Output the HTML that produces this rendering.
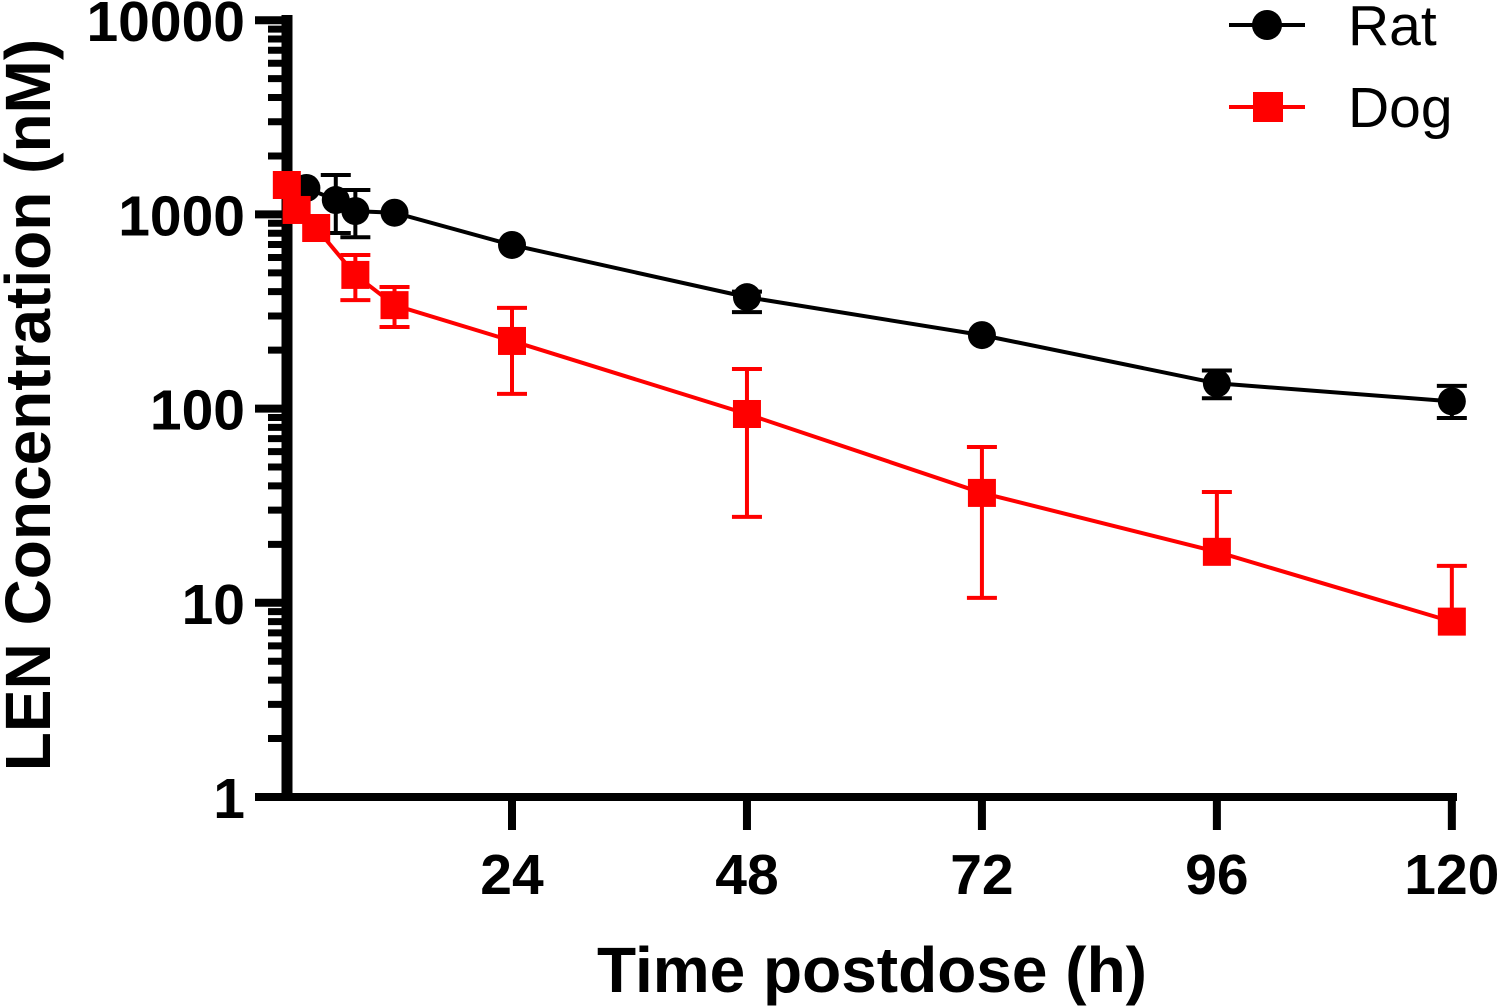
<!DOCTYPE html>
<html><head><meta charset="utf-8"><style>
html,body{margin:0;padding:0;background:#fff;}
svg{display:block;font-family:"Liberation Sans",Arial,sans-serif;}
</style></head><body>
<svg id="chart" width="1500" height="1006" viewBox="0 0 1500 1006">
<g id="axes"></g>
<g id="series"></g>
<g>
  <g>
    <line x1="1229" y1="25" x2="1305" y2="25" stroke="#000" stroke-width="4"/>
    <circle cx="1267" cy="25" r="15" fill="#000"/>
    <text x="1348" y="45" font-size="57" fill="#000">Rat</text>
  </g>
  <g>
    <line x1="1229" y1="107" x2="1305" y2="107" stroke="#f00" stroke-width="4"/>
    <rect x="1253" y="92" width="30" height="30" fill="#f00"/>
    <text x="1348" y="127" font-size="57" fill="#000">Dog</text>
  </g>
</g>
<text x="872" y="992" font-size="64" font-weight="bold" text-anchor="middle">Time postdose (h)</text>
<text transform="translate(50,405) rotate(-90)" font-size="64" font-weight="bold" text-anchor="middle">LEN Concentration (nM)</text>
</svg>
<script>
const ratTimes=[3,6,8,12,24,48,72,96,120];
const ratValues=[1368,1186,1040,1020,696,375,239,135,109];
const ratUpper=[null,1596,1336,null,null,400,null,157,131];
const ratLower=[null,802,763,null,null,314,null,113,89.5];
const dogTimes=[1,2,4,8,12,24,48,72,96,120];
const dogValues=[1417,1054,851,488,341,223,93.8,36.8,18.3,8.0];
const dogUpper=[null,null,null,618,423,330,160,63.4,37.2,15.5];
const dogLower=[null,null,null,362,263,119,27.7,10.6,null,null];
const xTicks=[24,48,72,96,120];
const yTicks=[1,10,100,1000,10000];

const NS="http://www.w3.org/2000/svg";
function X(t){return 512+(t-24)*9.79;}
function Y(v){return 797-194.2*Math.log10(v);}
function mk(tag,attrs,parent){const e=document.createElementNS(NS,tag);for(const k in attrs)e.setAttribute(k,attrs[k]);parent.appendChild(e);return e;}
const axes=document.getElementById('axes'), series=document.getElementById('series');

let yl=mk('line',{x1:287,y1:15,x2:287,y2:801,stroke:'#000','stroke-width':11},axes);


let xl=mk('line',{x1:255,y1:797,x2:1457,y2:797,stroke:'#000','stroke-width':8},axes);



yTicks.forEach(v=>{
  const y=Y(v);
  if(v!==1){const t=mk('line',{x1:255,y1:y,x2:287,y2:y,stroke:'#000','stroke-width':8},axes);
  
  }
  const l=mk('text',{x:245,y:y+21,'font-size':57,'font-weight':'bold','text-anchor':'end'},axes);
  l.textContent=String(v);
  
  
  if(v<10000){for(let m=2;m<=9;m++){const ym=Y(v*m);
    const mt=mk('line',{x1:268,y1:ym,x2:287,y2:ym,stroke:'#000','stroke-width':7},axes);
    
    }}
});
xTicks.forEach(t=>{
  const x=X(t);
  const tk=mk('line',{x1:x,y1:797,x2:x,y2:830,stroke:'#000','stroke-width':8},axes);
  
  
  const l=mk('text',{x:x,y:894,'font-size':57,'font-weight':'bold','text-anchor':'middle'},axes);
  l.textContent=String(t);
  
  
});

function drawSeries(name,times,vals,up,lo,color,shape){
  const g=mk('g',{},series);
  
  
  const pts=times.map((t,i)=>X(t)+','+Y(vals[i])).join(' ');
  const pl=mk('polyline',{points:pts,fill:'none',stroke:color,'stroke-width':4},g);
  
  
  times.forEach((t,i)=>{
    const x=X(t),y=Y(vals[i]);
    const parts=[];
    if(up[i]!=null)parts.push([Y(up[i]),y,'up']);
    if(lo[i]!=null)parts.push([y,Y(lo[i]),'lo']);
    parts.forEach(([a,b,kind])=>{
      const e=mk('line',{x1:x,y1:a,x2:x,y2:b,stroke:color,'stroke-width':4},g);
      
      
      const capY=kind==='up'?a:b;
      const c=mk('line',{x1:x-15,y1:capY,x2:x+15,y2:capY,stroke:color,'stroke-width':4},g);
      
      
    });
  });
  times.forEach((t,i)=>{
    const x=X(t),y=Y(vals[i]);
    let m;
    if(shape==='circle')m=mk('circle',{cx:x,cy:y,r:14,fill:color},g);
    else m=mk('rect',{x:x-14,y:y-14,width:28,height:28,fill:color},g);
    
    
  });
}
drawSeries('rat',ratTimes,ratValues,ratUpper,ratLower,'#000','circle');
drawSeries('dog',dogTimes,dogValues,dogUpper,dogLower,'#f00','square');
</script>
</body></html>
